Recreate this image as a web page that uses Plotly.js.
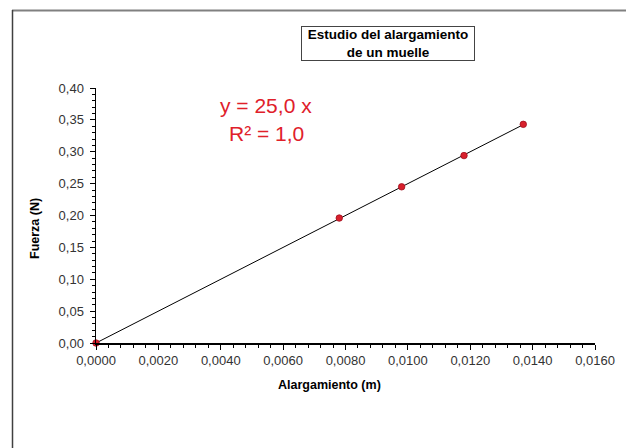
<!DOCTYPE html>
<html>
<head>
<meta charset="utf-8">
<script src="https://cdn.plot.ly/plotly-3.0.1.min.js"></script>
<style>html,body{margin:0;padding:0;background:#fff;} #chart{width:626px;height:448px;}</style>
</head>
<body>
<div id="chart"></div>
<script>
// Data
var alargamiento = [0.0000, 0.0078, 0.0098, 0.0118, 0.0137];   // m
var fuerza       = [0.000, 0.196, 0.245, 0.294, 0.343];         // N
var trendX = [0.0000, 0.0137];
var trendY = [0.000, 0.3425];
var chartTitle = "Estudio del alargamiento<br>de un muelle";
var eqText = "y = 25,0 x";
var r2Text = "R² = 1,0";
var xTitle = "Alargamiento (m)";
var yTitle = "Fuerza (N)";

var FONT = 'Arial, "Liberation Sans", sans-serif';

var traces = [
  {x: trendX, y: trendY, mode: 'lines', type: 'scatter',
   line: {color: '#000000', width: 1}, hoverinfo: 'skip', showlegend: false},
  {x: alargamiento, y: fuerza, mode: 'markers', type: 'scatter', cliponaxis: false,
   marker: {color: '#d8202c', size: 6.5, line: {color: '#a01020', width: 0.8}},
   showlegend: false}
];

var axisFont = {family: FONT, size: 13, color: '#333'};

// paper-coordinate helpers for the 499x255 plot area at (96, 88)
function px(x) { return (x - 96) / 499; }
function py(y) { return (343 - y) / 255; }

var layout = {
  width: 626, height: 448,
  margin: {l: 96, r: 31, t: 88, b: 105},
  paper_bgcolor: '#ffffff', plot_bgcolor: '#ffffff',
  separators: ', ',
  showlegend: false,
  xaxis: {
    range: [0, 0.016], dtick: 0.002, tickformat: '.4f',
    showgrid: false, zeroline: false,
    showline: true, linecolor: '#000', linewidth: 1.5,
    ticks: 'outside', ticklen: 5, tickwidth: 1, tickcolor: '#000',
    minor: {dtick: 0.0004, ticks: 'outside', ticklen: 3, tickcolor: '#000', showgrid: false},
    tickfont: axisFont,
    fixedrange: true
  },
  yaxis: {
    range: [0, 0.40], dtick: 0.05, tickformat: '.2f',
    showgrid: false, zeroline: false,
    showline: true, linecolor: '#000', linewidth: 1.5,
    ticks: 'outside', ticklen: 5, tickwidth: 1, tickcolor: '#000',
    minor: {dtick: 0.01, ticks: 'outside', ticklen: 3, tickcolor: '#000', showgrid: false},
    tickfont: axisFont, ticklabelstandoff: 3,
    fixedrange: true
  },
  shapes: [
    {type: 'line', xref: 'paper', yref: 'paper',
     x0: px(12), x1: px(640), y0: py(10.5), y1: py(10.5),
     line: {color: '#808080', width: 2}},
    {type: 'line', xref: 'paper', yref: 'paper',
     x0: px(12.5), x1: px(12.5), y0: py(10), y1: py(460),
     line: {color: '#404040', width: 1.5}}
  ],
  annotations: [
    {text: chartTitle, xref: 'paper', yref: 'paper',
     x: px(388), y: py(44), xanchor: 'center', yanchor: 'middle',
     showarrow: false, align: 'center',
     font: {family: FONT, size: 13.5, color: '#000', weight: 'bold'},
     bordercolor: '#444', borderwidth: 1, borderpad: 0, bgcolor: '#fff', width: 172},
    {text: eqText, xref: 'paper', yref: 'paper',
     x: px(266), y: py(105), xanchor: 'center', yanchor: 'middle',
     showarrow: false,
     font: {family: FONT, size: 21, color: '#e0202a'}},
    {text: r2Text, xref: 'paper', yref: 'paper',
     x: px(266), y: py(133), xanchor: 'center', yanchor: 'middle',
     showarrow: false,
     font: {family: FONT, size: 21, color: '#e0202a'}},
    {text: xTitle, xref: 'paper', yref: 'paper',
     x: px(329), y: py(385), xanchor: 'center', yanchor: 'middle',
     showarrow: false,
     font: {family: FONT, size: 12.5, color: '#000', weight: 'bold'}},
    {text: yTitle, xref: 'paper', yref: 'paper',
     x: px(35), y: py(229), xanchor: 'center', yanchor: 'middle',
     showarrow: false, textangle: -90,
     font: {family: FONT, size: 12.5, color: '#000', weight: 'bold'}}
  ]
};

Plotly.newPlot('chart', traces, layout, {displayModeBar: false, staticPlot: true});
</script>
</body>
</html>
